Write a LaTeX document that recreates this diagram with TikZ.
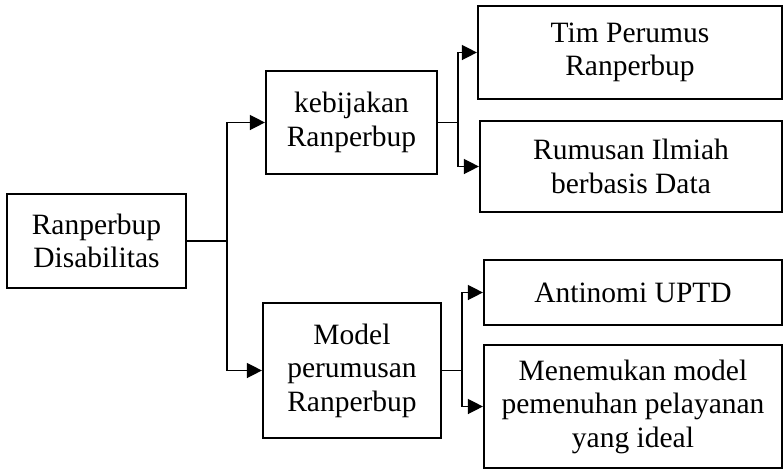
\documentclass[tikz,border=0pt]{standalone}
\usepackage{fontspec}
\setmainfont{Liberation Serif}
\usetikzlibrary{arrows.meta}
\begin{document}
\begin{tikzpicture}[x=1pt,y=-1pt,
  box/.style={draw, line width=2.2pt, align=center, inner sep=0pt,
    font=\fontsize{29.5}{33.5}\selectfont},
  link/.style={line width=1.4pt, -{Triangle[length=15pt,width=15pt]}},
  plain/.style={line width=1.4pt}]
\useasboundingbox (0,0) rectangle (784,471);

% boxes
\node[box, minimum width=179pt, minimum height=94pt]  (A) at (96.5,241)   {Ranperbup\\Disabilitas};
\node[box, minimum width=171pt, minimum height=103pt] (B) at (351.5,122.5) {kebijakan\\Ranperbup};
\node[box, minimum width=178pt, minimum height=135pt] (E) at (352,370.5)  {Model\\perumusan\\Ranperbup};
\node[box, minimum width=304pt, minimum height=93pt]  (C) at (630,52.5)   {Tim Perumus\\Ranperbup};
\node[box, minimum width=302pt, minimum height=91pt]  (D) at (631,166.5)  {Rumusan Ilmiah\\berbasis Data};
\node[box, minimum width=298pt, minimum height=65pt]  (F) at (633,292.5)  {Antinomi UPTD};
\node[box, minimum width=298pt, minimum height=123pt] (G) at (633,406.5)  {Menemukan model\\pemenuhan pelayanan\\yang ideal};

% branch points
\coordinate (jA) at (227,241);
\coordinate (jB) at (458,122.5);
\coordinate (jE) at (462,370.5);

% connectors
\draw[plain] (A.east) -- (jA);
\draw[link] (jA) |- (B.west);
\draw[link] (jA) |- (E.west);
\draw[plain] (B.east) -- (jB);
\draw[link] (jB) |- (C.west);
\draw[link] (jB) |- (D.west);
\draw[plain] (E.east) -- (jE);
\draw[link] (jE) |- (F.west);
\draw[link] (jE) |- (G.west);
\end{tikzpicture}
\end{document}
